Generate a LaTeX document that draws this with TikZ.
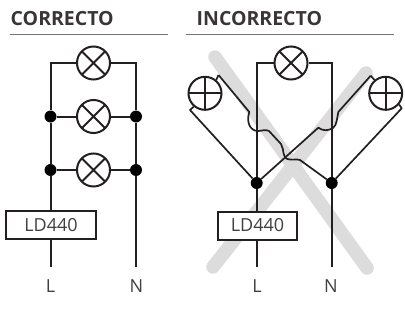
\documentclass[tikz,border=0pt]{standalone}
\usepackage{fontspec}
\setmainfont{Open Sans}
\definecolor{wire}{HTML}{231F20}
\definecolor{txt}{HTML}{404040}
\definecolor{xgrey}{HTML}{DCDCDC}
\tikzset{
  wireline/.style={draw=wire,line width=2pt},
  thinwire/.style={draw=wire,line width=1.7pt,line join=round},
  lampx/.style={circle,draw=wire,line width=2pt,fill=white,inner sep=0pt,minimum size=33pt,
    path picture={\draw[wire,line width=1.9pt] (path picture bounding box.north west)--(path picture bounding box.south east)
      (path picture bounding box.north east)--(path picture bounding box.south west);}},
  lampplus/.style 2 args={circle,draw=wire,line width=2pt,fill=white,inner sep=0pt,minimum size=33pt,
    path picture={
      \draw[wire,line width=1.9pt,rotate around={#1:(path picture bounding box.center)}]
        ([xshift=-20pt]path picture bounding box.center)--([xshift=20pt]path picture bounding box.center);
      \draw[wire,line width=1.9pt,rotate around={#2:(path picture bounding box.center)}]
        ([yshift=-20pt]path picture bounding box.center)--([yshift=20pt]path picture bounding box.center);}},
  junction/.style={circle,fill=black,inner sep=0pt,minimum size=12pt},
  devicebox/.style={draw=wire,line width=2pt,fill=white,inner sep=0pt,minimum height=28pt,font=\fontsize{18}{20}\selectfont,text=txt},
  term/.style={font=\fontsize{18}{20}\selectfont,text=txt,inner sep=0pt},
  heading/.style={font=\fontsize{19.5}{22}\selectfont\bfseries,text=wire!90,inner sep=0pt,anchor=base west},
  rule/.style={draw=gray!90!black,line width=1pt},
  cross/.style={draw=xgrey,line width=13.5pt,line cap=round}
}
\begin{document}
\begin{tikzpicture}[x=1pt,y=-1pt]
\useasboundingbox (0,0) rectangle (405,324);
% headings
\node[heading] (h1) at (10.5,26) {CORRECTO};
\node[heading] (h2) at (196.5,26) {INCORRECTO};
\coordinate (r1a) at (10,34); \coordinate (r1b) at (168,34);
\coordinate (r2a) at (186,34); \coordinate (r2b) at (394,34);
\draw[rule] (r1a)--(r1b);
\draw[rule] (r2a)--(r2b);
% grey cross
\coordinate (c1a) at (215,57); \coordinate (c1b) at (367,268);
\coordinate (c2a) at (366,73); \coordinate (c2b) at (213,267);
\draw[cross] (c1a)--(c1b);
\draw[cross] (c2a)--(c2b);
% left circuit
\coordinate (lt) at (50.5,63); \coordinate (nt) at (136,63);
\coordinate (lb) at (50.5,267); \coordinate (nb) at (136,267);
\node[lampx] (a1) at (93.5,63) {};
\node[lampx] (a2) at (93.5,116.5) {};
\node[lampx] (a3) at (93.5,170) {};
\node[junction] (j1) at (50.5,116.5) {};
\node[junction] (j2) at (136,116.5) {};
\node[junction] (j3) at (50.5,170) {};
\node[junction] (j4) at (136,170) {};
\draw[wireline] (a1.west)--(lt)--(j1)--(j3)--(lb);
\draw[wireline] (a1.east)--(nt)--(j2)--(j4)--(nb);
\draw[wireline] (j1)--(a2.west) (a2.east)--(j2) (j3)--(a3.west) (a3.east)--(j4);
\node[devicebox,minimum width=90pt] (b1) at (51,225) {LD440};
\node[term] (tl1) at (50.5,286.5) {L};
\node[term] (tn1) at (136.5,286.5) {N};
% right circuit
\coordinate (lt2) at (256.7,63); \coordinate (nt2) at (331.7,63);
\coordinate (lb2) at (256.7,267); \coordinate (nb2) at (331.7,267);
\node[lampx] (c1) at (291,63) {};
\node[junction] (k1) at (256.7,183) {};
\node[junction] (k2) at (331.7,183) {};
\draw[wireline] (c1.west)--(lt2)--(k1)--(lb2);
\draw[wireline] (c1.east)--(nt2)--(k2)--(nb2);
\node[lampplus={-7}{-6}] (d1) at (205,93.3) {};
\node[lampplus={3}{-3}] (d2) at (385.7,93.3) {};
\coordinate (d1t) at (218.5,75); \coordinate (d1b) at (190,110);
\coordinate (d2t) at (370.7,75.7); \coordinate (d2b) at (401.7,108.3);
\draw[thinwire] (d1.50)--(d1t);
\draw[thinwire] (d1.-130)--(d1b)--(k1);
\draw[thinwire] (d2.-40)--(d2b)--(k2);
\draw[thinwire] (d2.130)--(d2t);
\draw[thinwire] (d1t)--(249.3,112) .. controls (246,122) and (250,131) .. (258,131)
  .. controls (262,131) and (265,129) .. (269,131) -- (281,144)
  .. controls (285,150) and (281,159) .. (290,159.5)
  .. controls (293,160) and (297,159) .. (300,160) -- (k2);
\draw[thinwire] (d2t)--(338.3,112) .. controls (337,118) and (337,125) .. (333,128)
  .. controls (328,131) and (323,131) .. (318.3,127.7) -- (k1);
\node[devicebox,minimum width=79pt] (b2) at (257.5,225.5) {LD440};
\node[term] (tl2) at (257,286.5) {L};
\node[term] (tn2) at (331,286.5) {N};
\end{tikzpicture}
\end{document}
